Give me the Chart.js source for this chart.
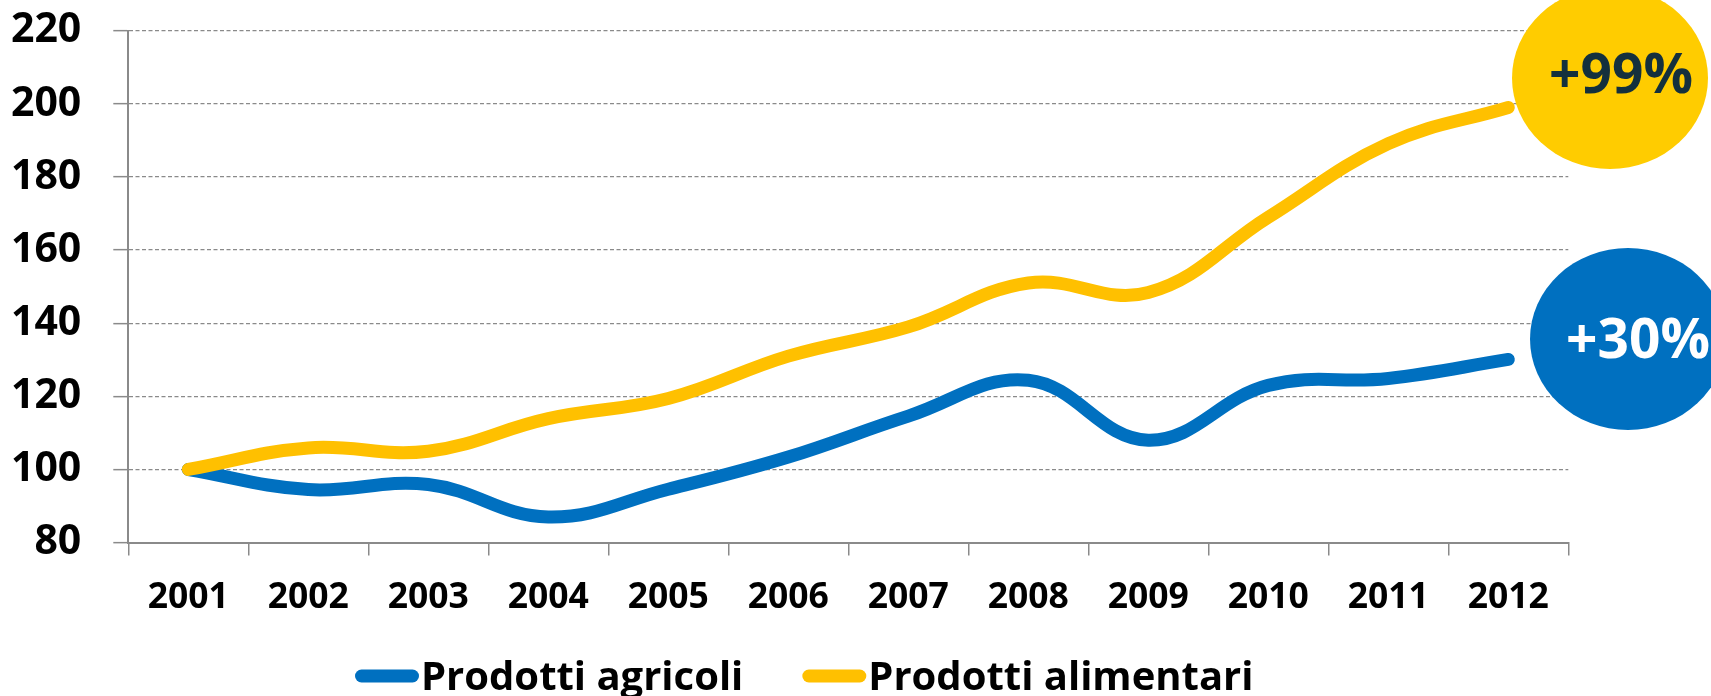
<!DOCTYPE html>
<html>
<head>
<meta charset="utf-8">
<script src="https://cdn.jsdelivr.net/npm/chart.js@4.4.1/dist/chart.umd.min.js"></script>
<style>
    body { margin: 0; background: #ffffff; }
    #wrap { width: 1711px; height: 696px; position: relative; }
</style>
</head>
<body>
<div id="wrap"><canvas id="priceChart"></canvas></div>
<script>
// Indice prezzi (2001 = 100)
const years = ['2001', '2002', '2003', '2004', '2005', '2006', '2007', '2008', '2009', '2010', '2011', '2012'];
const agricoli = [100, 94.5, 95.9, 87.0, 94.6, 103.4, 114.6, 124.4, 108.0, 123.0, 124.9, 130.1];
const alimentari = [100, 105.9, 105.0, 113.9, 119.4, 131.0, 139.0, 151.0, 148.4, 169.0, 189.1, 199.0];
const seriesNames = ['Prodotti agricoli', 'Prodotti alimentari'];
const yTicks = [80, 100, 120, 140, 160, 180, 200, 220];

const BLUE = '#0070C0';
const YELLOW = '#FFC000';
const GRID = '#8A8A8A';
const FONT = '"Open Sans"';

// badge look for each series (bubble at the end of the line)
const badges = [
    { cx: 1628, cy: 339, rx: 98, ry: 91, fill: BLUE, textColor: '#FFFFFF', tx: 1638, ty: 358 },
    { cx: 1610, cy: 78, rx: 98, ry: 91, fill: '#FFCC00', textColor: '#14303D', tx: 1621, ty: 93 }
];

const overlayPlugin = {
    id: 'overlay',
    afterDraw(chart) {
        const ctx = chart.ctx;
        ctx.save();

        // growth bubbles
        chart.data.datasets.forEach((ds, i) => {
            const b = badges[i];
            const first = ds.data[0];
            const last = ds.data[ds.data.length - 1];
            const pct = Math.round((last / first - 1) * 100);
            ctx.fillStyle = b.fill;
            ctx.beginPath();
            ctx.ellipse(b.cx, b.cy, b.rx, b.ry, 0, 0, Math.PI * 2);
            ctx.fill();
            ctx.fillStyle = b.textColor;
            ctx.font = 'bold 55px ' + FONT;
            ctx.textAlign = 'center';
            ctx.textBaseline = 'alphabetic';
            ctx.fillText('+' + pct + '%', b.tx, b.ty);
        });

        // legend
        let x = 355;
        const y = 676;
        ctx.font = 'bold 40px ' + FONT;
        ctx.textAlign = 'left';
        ctx.textBaseline = 'alphabetic';
        chart.data.datasets.forEach(ds => {
            ctx.strokeStyle = ds.borderColor;
            ctx.lineWidth = 13;
            ctx.lineCap = 'round';
            ctx.beginPath();
            ctx.moveTo(x + 6.5, y);
            ctx.lineTo(x + 64 - 6.5, y);
            ctx.stroke();
            ctx.fillStyle = '#000000';
            ctx.fillText(ds.label, x + 66, 690);
            x += 66 + ctx.measureText(ds.label).width + 59;
        });

        ctx.restore();
    }
};

new Chart(document.getElementById('priceChart'), {
    type: 'line',
    data: {
        labels: years,
        datasets: [
            {
                label: seriesNames[0],
                data: agricoli,
                borderColor: BLUE,
                backgroundColor: BLUE,
                order: 1
            },
            {
                label: seriesNames[1],
                data: alimentari,
                borderColor: YELLOW,
                backgroundColor: YELLOW,
                order: 0
            }
        ]
    },
    options: {
        responsive: true,
        maintainAspectRatio: false,
        animation: false,
        layout: {
            padding: { top: 30.7, right: 142.7, bottom: 73.4, left: 0 }
        },
        elements: {
            line: {
                borderWidth: 13,
                tension: 0.4,
                borderCapStyle: 'round',
                borderJoinStyle: 'round',
                fill: false
            },
            point: { radius: 0, hoverRadius: 0 }
        },
        plugins: {
            legend: { display: false },
            tooltip: { enabled: false }
        },
        scales: {
            x: {
                offset: true,
                afterFit: scale => {
                    scale.height = 80;
                    scale.paddingLeft = 0;
                    scale.paddingRight = 0;
                },
                grid: {
                    offset: true,
                    drawOnChartArea: false,
                    drawTicks: true,
                    tickLength: 13,
                    color: GRID,
                    lineWidth: 1.5
                },
                border: { color: GRID, width: 2 },
                ticks: {
                    color: '#000000',
                    padding: 21,
                    maxRotation: 0,
                    font: { family: FONT, size: 35.5, weight: 'bold' }
                }
            },
            y: {
                min: yTicks[0],
                max: yTicks[yTicks.length - 1],
                afterFit: scale => {
                    scale.width = 128.3;
                    // labels may overflow the plot edges, like the original
                    scale.paddingTop = 0;
                    scale.paddingBottom = 0;
                },
                afterBuildTicks: scale => {
                    scale.ticks = yTicks.map(v => ({ value: v }));
                },
                grid: {
                    color: GRID,
                    lineWidth: 1.3,
                    tickLength: 15,
                    tickBorderDash: [],
                    tickWidth: 1.5
                },
                border: { color: GRID, width: 2, dash: [4, 2.5] },
                ticks: {
                    color: '#000000',
                    padding: 32,
                    font: { family: FONT, size: 41, weight: 'bold' }
                }
            }
        }
    },
    plugins: [overlayPlugin]
});
</script>
</body>
</html>
